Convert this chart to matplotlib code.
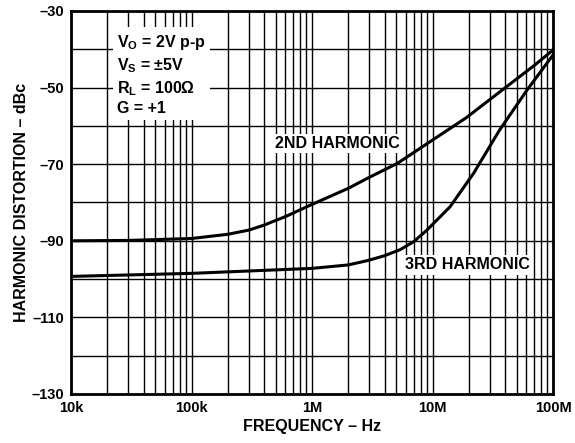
import numpy as np
import matplotlib
matplotlib.use('Agg')
import matplotlib.pyplot as plt
from matplotlib.ticker import FixedLocator, NullFormatter

# data
freq2 = [1e4, 3e4, 1e5, 2e5, 3e5, 4e5, 6e5, 1e6, 2e6, 3e6, 5.1e6, 1e7, 1.9e7, 4.1e7, 7e7, 1e8]
hd2 = [-90.0, -89.9, -89.4, -88.3, -87.2, -85.9, -83.7, -80.5, -76.3, -73.4, -69.8, -63.7, -57.9, -49.8, -44.2, -40.2]
freq3 = [1e4, 1e5, 1e6, 2e6, 2.86e6, 4e6, 5.4e6, 7e6, 9e6, 1.4e7, 2.2e7, 3.6e7, 6.1e7, 1e8]
hd3 = [-99.3, -98.5, -97.2, -96.3, -95.2, -93.9, -92.3, -90.2, -87.2, -81.1, -72.3, -61.1, -50.6, -41.5]
xTicks = [1e4, 1e5, 1e6, 1e7, 1e8]
xLabels = ['10k', '100k', '1M', '10M', '100M']
yTicks = [-30, -50, -70, -90, -110, -130]

plt.rcParams['font.family'] = ['Liberation Sans', 'DejaVu Sans']
plt.rcParams['font.weight'] = 'bold'
plt.rcParams['mathtext.fontset'] = 'custom'
plt.rcParams['mathtext.bf'] = 'Liberation Sans:bold'
plt.rcParams['mathtext.rm'] = 'Liberation Sans:bold'

fig = plt.figure(figsize=(5.75, 4.43), dpi=100)
ax = fig.add_axes([71/575, 1 - 394/443, 482/575, 383/443])

ax.set_xscale('log')
ax.set_xlim(1e4, 1e8)
ax.set_ylim(-130, -30)

minors = [m * 10**e for e in range(4, 8) for m in range(2, 10)]
ax.xaxis.set_major_locator(FixedLocator(xTicks))
ax.xaxis.set_minor_locator(FixedLocator(minors))
ax.xaxis.set_minor_formatter(NullFormatter())
ax.set_xticklabels(xLabels)
ax.yaxis.set_major_locator(FixedLocator(yTicks))
ax.yaxis.set_minor_locator(FixedLocator(list(range(-120, -30, 20))))
ax.set_yticklabels(['\u2013' + str(abs(v)) for v in yTicks])

ax.grid(True, which='both', color='black', linewidth=1.0)
ax.tick_params(which='both', length=0, labelsize=10.5, pad=5)
for s in ax.spines.values():
    s.set_linewidth(2)

ax.plot(freq2, hd2, color='black', linewidth=2.2, zorder=3)
ax.plot(freq3, hd3, color='black', linewidth=2.2, zorder=3)

bg = dict(facecolor='white', edgecolor='none', pad=1.5)
ax.text(4.93e5, -64.5, '2ND HARMONIC', fontsize=11.5, fontweight='bold', va='center', bbox=bg, zorder=4)
ax.text(5.9e6, -96.3, '3RD HARMONIC', fontsize=11.5, fontweight='bold', va='center', bbox=bg, zorder=4)
ax.text(2.41e4, -46.6, 'V$_\\mathrm{O}$ = 2V p-p\nV$_\\mathrm{S}$ = \u00b15V\nR$_\\mathrm{L}$ = 100\u03a9\nG = +1',
        fontsize=11.5, fontweight='bold', va='center', linespacing=1.3,
        bbox=dict(facecolor='white', edgecolor='none', pad=3), zorder=4)

ax.set_xlabel('FREQUENCY \u2013 Hz', fontsize=11.5, fontweight='bold', labelpad=3)
ax.set_ylabel('HARMONIC DISTORTION \u2013 dBc', fontsize=11.5, fontweight='bold', labelpad=2)

plt.savefig('out.png', dpi=100)
plt.close()
